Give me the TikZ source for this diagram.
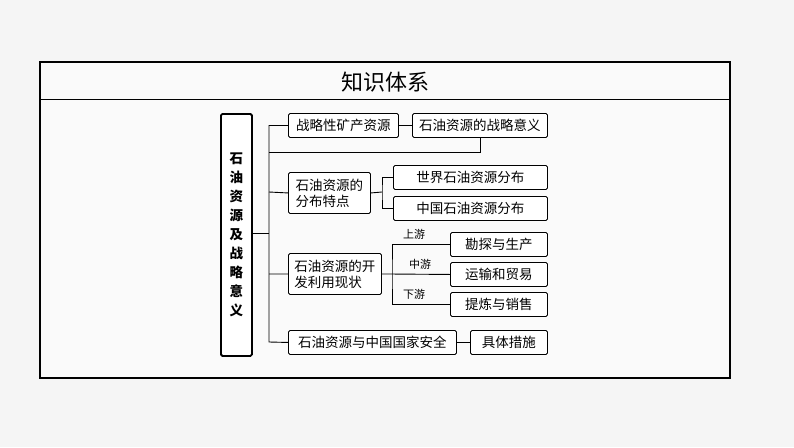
\documentclass[tikz,border=0pt]{standalone}
\usepackage{fontspec}
\setmainfont{Noto Sans CJK SC}
\usetikzlibrary{positioning}

\begin{document}
\begin{tikzpicture}[x=1pt,y=-1pt,
    line width=0.9pt,
    font=\fontsize{13.5}{16}\selectfont,
    ]
% -------------------------------------------------
% Box styles
\tikzset{
  base/.style={draw, rounded corners=1.5pt, fill=white, inner sep=2pt, anchor=north west},
  box/.style={base, minimum height=24pt, align=left},
  tall/.style={base, minimum height=41pt, align=left},
  lbl/.style={font=\fontsize{11}{12}\selectfont},
  link/.style={draw, line width=0.9pt},
}
% -------------------------------------------------
% Background and frame
\fill[gray!8] (0,0) rectangle (794,447);
\draw[black, line width=1.5pt, fill=gray!4] (40,62) rectangle (730,378);
\draw[black, line width=2pt] (40,62) -- (730,62) (40,378) -- (730,378);
\draw[black] (40,99) -- (730,99);
\node[font=\fontsize{22}{24}\selectfont] (title) at (385,82) {知识体系};
% -------------------------------------------------
% Nodes
\node[base, line width=1.8pt, minimum width=31pt, minimum height=242pt, align=center,
      font=\fontsize{13.5}{19}\selectfont\bfseries] (root) at (220,113)
      {石\\油\\资\\源\\及\\战\\略\\意\\义};
\node[box, minimum width=110pt] (n1) at (288,113) {战略性矿产资源};
\node[box, minimum width=135pt, align=center] (n1b) at (412,113) {石油资源的战略意义};
\node[tall, minimum width=82pt] (n2) at (288,172) {石油资源的\\分布特点};
\node[box, minimum width=154pt, align=center] (n2a) at (393,165) {世界石油资源分布};
\node[box, minimum width=154pt, align=center] (n2b) at (393,196) {中国石油资源分布};
\node[tall, minimum width=93pt] (n3) at (288,253) {石油资源的开\\发利用现状};
\node[box, minimum width=97pt, align=center] (n3a) at (450,232) {勘探与生产};
\node[box, minimum width=97pt, align=center] (n3b) at (450,262) {运输和贸易};
\node[box, minimum width=97pt, align=center] (n3c) at (450,292) {提炼与销售};
\node[box, minimum width=168pt] (n4) at (288,330) {石油资源与中国国家安全};
\node[box, minimum width=77pt, align=center] (n4b) at (470,330) {具体措施};
% -------------------------------------------------
% Connectors
\coordinate (trunk) at (269,233);
\draw[link] (root.east |- trunk) -- (trunk);
\draw[link] (n1.west) -| (269,342) -- (n4.west);
\draw[link] (269,192) -- (n2.west);
\draw[link] (269,274) -- (n3.west);
\draw[link] (n1.east) -- (n1b.west);
\draw[link] (n1b.south) |- (269,152);
\draw[link] (n2.east) -- (382,192);
\draw[link] (n2a.west) -| (382,192) |- (n2b.west);
\draw[link] (n3.east) -- (n3b.west) node[lbl, pos=0.56, above=1pt] (mid) {中游};
\draw[link] (n3a.west) -| (392,274) |- (n3c.west);
\node[lbl, above=1pt] (up) at (414,244) {上游};
\node[lbl, above=1pt] (down) at (414,304) {下游};
\draw[link] (n4.east) -- (n4b.west);
\end{tikzpicture}
\end{document}
